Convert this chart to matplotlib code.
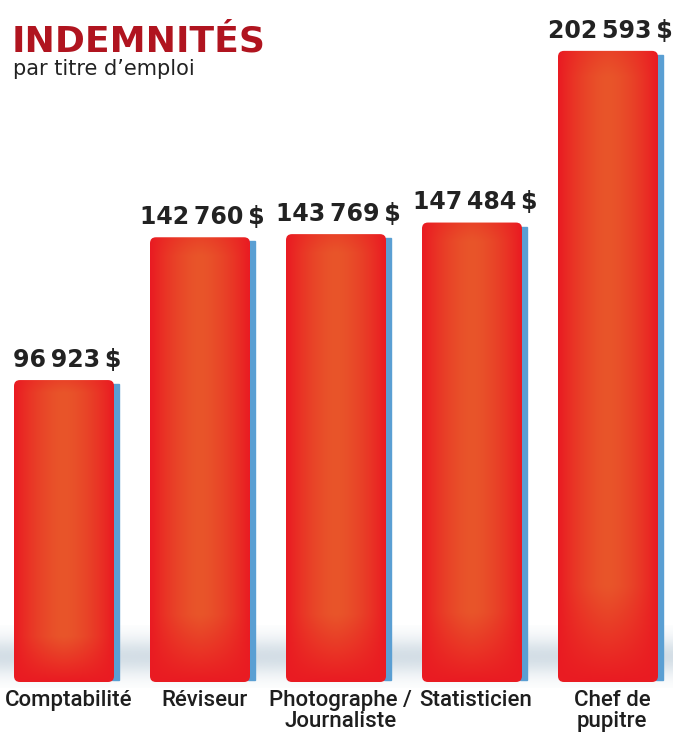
import numpy as np
import matplotlib.pyplot as plt
from matplotlib.patches import FancyBboxPatch, Rectangle
from matplotlib.colors import to_rgb

# data
categories = ['Comptabilité', 'Réviseur', 'Photographe /\nJournaliste', 'Statisticien', 'Chef de\npupitre']
values = [96923, 142760, 143769, 147484, 202593]
value_labels = ['96\u2009923\u2009$', '142\u2009760\u2009$', '143\u2009769\u2009$', '147\u2009484\u2009$', '202\u2009593\u2009$']

title = 'INDEMNITÉS'
subtitle = 'par titre d\u2019emploi'

# colours
red = np.array(to_rgb('#ea1b22'))
orange = np.array(to_rgb('#e8552a'))
side_blue = '#5a9fd3'

W, H = 673, 734
fig = plt.figure(figsize=(W / 100, H / 100), dpi=100)
ax = fig.add_axes([0, 0, 1, 1])
ax.set_axis_off()

# pixel -> data scales
px_x = 1 / 136.0        # one pixel in x units
px_y = 321.0            # one pixel in y units
base_px = 52            # baseline height above bottom edge
ax.set_xlim(-64 * px_x, (W - 64) * px_x)
ax.set_ylim(-base_px * px_y, (H - base_px) * px_y)

x = np.arange(len(categories))
bar_w = 100 * px_x
bars = ax.bar(x, values, width=bar_w, color='none', edgecolor='none', zorder=3)

# soft bluish-gray reflection near the floor
yy = np.linspace(0, 1, 80)[:, None]
band = np.exp(-((yy - 0.5) / 0.3) ** 2)
band_rgba = np.zeros((80, 2, 4))
band_rgba[..., :3] = to_rgb('#b8c9d6')
band_rgba[..., 3] = band * 0.6
ax.imshow(band_rgba, extent=(ax.get_xlim()[0], ax.get_xlim()[1], -6 * px_y, 56 * px_y),
          aspect='auto', zorder=1, interpolation='bicubic')

# gradient for bar faces
nx, ny = 60, 200
u = np.linspace(-1, 1, nx)[None, :]
v = np.linspace(0, 1, ny)[:, None]   # 0 = bottom, 1 = top (origin lower)
horiz = 1 - np.abs(u) ** 1.6
vert = np.clip(v / 0.15, 0, 1) * (1 - 0.3 * np.clip((v - 0.96) / 0.04, 0, 1))
mix = (horiz * vert)[..., None]
grad = red * (1 - mix) + orange * mix

for b in bars:
    x0, y0 = b.get_x(), b.get_y()
    w, h = b.get_width(), b.get_height()
    # blue side face
    side = Rectangle((x0 + w - 2 * px_x, y0 + 2 * px_y), 7 * px_x, h - 6 * px_y,
                     color=side_blue, zorder=2)
    ax.add_patch(side)
    face = FancyBboxPatch((x0, y0), w, h,
                          boxstyle='round,pad=0,rounding_size=%f' % (6 * px_x),
                          mutation_aspect=(6 * px_y) / (6 * px_x),
                          facecolor='none', edgecolor='none', zorder=3)
    ax.add_patch(face)
    im = ax.imshow(grad, extent=(x0, x0 + w, y0, y0 + h), origin='lower',
                   aspect='auto', zorder=3, interpolation='bicubic')
    im.set_clip_path(face)

# value labels
for xi, val, lab in zip(x, values, value_labels):
    ax.annotate(lab, (xi, val), xytext=(2, 6), textcoords='offset points',
                ha='center', va='bottom', fontsize=17, fontweight='bold',
                color='#222222', family=['DejaVu Sans'], zorder=5)

# category labels
for xi, cat in zip(x, categories):
    ax.annotate(cat, (xi, 0), xytext=(3, -6), textcoords='offset points',
                ha='center', va='top', fontsize=16, color='#1e1e1e',
                fontweight='medium', family=['Roboto', 'DejaVu Sans'],
                linespacing=0.95, zorder=5)

fig.text(12 / W, 1 - 52 / H, title, fontsize=26, fontweight='bold',
         color='#b0141f', family=['DejaVu Sans'], ha='left', va='baseline')
fig.text(13 / W, 1 - 75 / H, subtitle, fontsize=15, color='#222222',
         family=['DejaVu Sans'], ha='left', va='baseline')

fig.savefig('out.png', dpi=100)
